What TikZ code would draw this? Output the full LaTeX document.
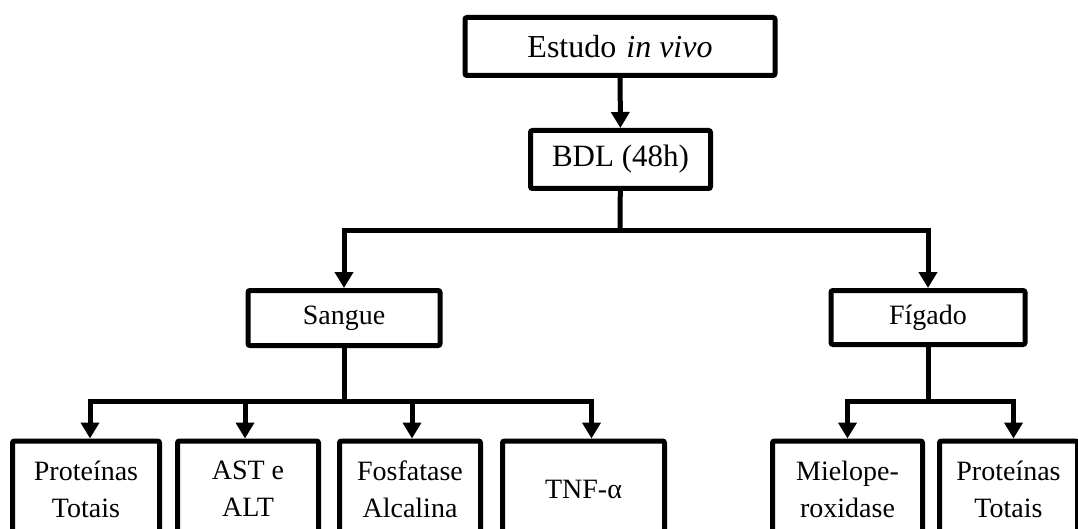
\documentclass[tikz,border=0pt]{standalone}
\usepackage{fontspec}
\setmainfont{Liberation Serif}
\usepackage{tikz}
\usetikzlibrary{positioning, arrows.meta}

\begin{document}
\begin{tikzpicture}[
  x=1pt, y=-1pt,
  stage/.style={draw, line width=5pt, rounded corners=2pt, inner sep=0pt,
                align=center, font=\fontsize{28}{37}\selectfont},
  assay/.style={stage, minimum height=96pt},
  link/.style={line width=5pt},
  flow/.style={link, -{Triangle[width=18pt,length=16pt]}},
]
  \useasboundingbox (0,0) rectangle (1078,529);

  % top of the study
  \node[stage, minimum width=310pt, minimum height=58pt,
        font=\fontsize{32}{37}\selectfont] (estudo) at (620,46.5)
    {Estudo\hspace{10pt}\textit{in vivo}};
  \node[stage, minimum width=180pt, minimum height=58pt,
        font=\fontsize{31}{37}\selectfont] (bdl) at (620.5,159.5)
    {BDL (48h)};
  \node[stage, minimum width=192pt, minimum height=55pt] (sangue) at (344,318)
    {Sangue};
  \node[stage, minimum width=194pt, minimum height=54pt] (figado) at (928,317.5)
    {Fígado};

  % blood assays
  \node[assay, minimum width=147pt] (protS) at (86,489) {Proteínas\\Totais};
  \node[assay, minimum width=141pt] (astalt) at (248,489) {AST e\\ALT};
  \node[assay, minimum width=141pt] (fosf) at (410,489) {Fosfatase\\Alcalina};
  \node[assay, minimum width=162pt] (tnf) at (583.5,489) {TNF-α};

  % liver assays
  \node[assay, minimum width=150pt] (mpo) at (847.5,489) {Mielope-\\roxidase};
  \node[assay, minimum width=138pt] (protF) at (1008.5,489) {Proteínas\\Totais};

  \coordinate (hubA) at (620,231);
  \coordinate (hubS) at (344,401);
  \coordinate (hubF) at (928,401);

  \draw[flow] (estudo) -- (bdl);
  \draw[link] (bdl) -- (hubA);
  \draw[flow] (hubA) -| (sangue);
  \draw[flow] (hubA) -| (figado);

  \draw[link] (sangue) -- (hubS);
  \draw[flow] (hubS) -| ([xshift=4pt]protS.north);
  \draw[flow] (hubS) -| ([xshift=-3pt]astalt.north);
  \draw[flow] (hubS) -| ([xshift=2pt]fosf.north);
  \draw[flow] (hubS) -| ([xshift=8pt]tnf.north);

  \draw[link] (figado) -- (hubF);
  \draw[flow] (hubF) -| (mpo.north);
  \draw[flow] (hubF) -| ([xshift=5pt]protF.north);
\end{tikzpicture}
\end{document}
